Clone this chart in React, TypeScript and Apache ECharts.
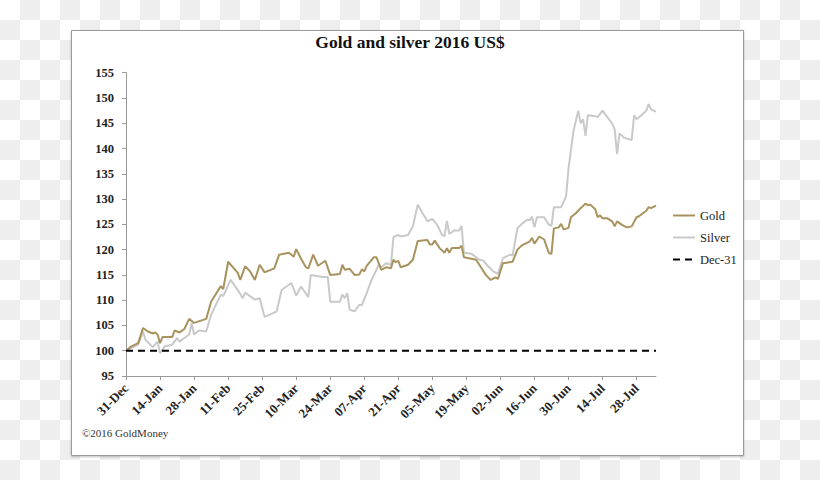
import React, { useEffect, useRef } from "react";
import * as echarts from "echarts";

// Day offsets counted from 31-Dec-2015
const goldDays = [0, 2, 5, 7, 9, 11, 12, 13, 14, 15, 19, 20, 22, 24, 26, 28, 33, 35, 39, 40, 42, 46, 47, 49, 51, 53, 55, 57, 61, 63, 67, 69, 70, 72, 74, 75, 77, 79, 82, 84, 88, 89, 90, 92, 94, 96, 97, 98, 99, 102, 103, 105, 107, 109, 110, 111, 112, 113, 116, 118, 120, 124, 125, 126, 127, 129, 131, 132, 133, 134, 137, 138, 139, 143, 144, 146, 148, 150, 152, 153, 155, 159, 161, 163, 166, 167, 168, 170, 172, 173, 174, 175, 176, 178, 179, 180, 182, 183, 185, 187, 189, 190, 191, 193, 194, 195, 196, 198, 200, 201, 202, 204, 206, 208, 210, 211, 214, 215, 216, 218];
const goldValues = [100, 100.8, 101.5, 104.5, 103.8, 103.4, 103.6, 103.2, 101.5, 102.7, 102.7, 104, 103.6, 104.3, 106.3, 105.5, 106.3, 109.7, 112.8, 112.2, 117.6, 115.4, 114, 116.7, 115.7, 114, 117, 115.5, 116.3, 119, 119.4, 118.6, 120.1, 118.2, 116.5, 116.3, 119, 116.8, 117.8, 115, 115.2, 117, 116, 116.2, 115, 115.1, 116.1, 115.7, 116.8, 118.5, 118.5, 116, 116.5, 116.3, 118, 117.5, 117.8, 116.5, 117, 118, 121.7, 121.9, 121, 121, 121.8, 120.3, 119.4, 120.3, 119.4, 120.3, 120.3, 120.8, 118.5, 118.1, 118, 116.5, 115, 114, 114.5, 114.2, 117.3, 117.6, 120, 120.9, 121.6, 122.3, 121.2, 122.6, 122, 120.6, 119.3, 119.2, 124.2, 124.4, 125.1, 124, 124.3, 126.4, 127.2, 128.2, 129.1, 128.8, 128.9, 128, 126.4, 126.8, 126.2, 126.2, 125.6, 124.6, 125.6, 124.9, 124.4, 124.6, 126.4, 126.6, 127.7, 128.4, 128.2, 128.7];

const silverDays = [0, 2, 5, 7, 8, 11, 13, 14, 16, 19, 21, 22, 26, 27, 28, 30, 33, 35, 39, 40, 43, 46, 48, 49, 53, 55, 57, 59, 62, 64, 68, 70, 72, 75, 76, 81, 83, 84, 88, 89, 90, 91, 92, 94, 96, 97, 99, 101, 104, 105, 107, 109, 110, 112, 113, 116, 118, 120, 122, 124, 126, 128, 130, 131, 132, 133, 135, 137, 138, 139, 142, 144, 145, 147, 149, 151, 153, 155, 158, 159, 161, 163, 165, 166, 167, 168, 169, 172, 174, 175, 176, 179, 181, 182, 184, 186, 187, 188, 189, 190, 193, 194, 196, 198, 200, 201, 202, 203, 205, 208, 209, 210, 212, 214, 215, 216, 218];
const silverValues = [100, 100.5, 101.2, 103.8, 102.2, 100.7, 101.8, 99.5, 100.9, 101.2, 102.5, 101.8, 103.2, 105.5, 103.2, 104, 103.8, 107.1, 111.1, 110.8, 114, 112, 110.4, 111.5, 110.1, 110.4, 106.7, 107.1, 107.8, 112, 113.4, 110.9, 112.7, 110.6, 115, 114.6, 114.6, 109.7, 109.7, 111.1, 110.4, 111.4, 108.1, 107.8, 109.1, 109, 111.4, 114, 117, 116.5, 117.3, 117, 122.5, 122.9, 122.6, 122.9, 124.6, 128.9, 127.2, 125.6, 126.1, 124.9, 122.9, 122.7, 125.7, 123.1, 123.8, 123.8, 124.7, 119.4, 119.2, 118.5, 118.1, 117.8, 116.7, 115.7, 115.2, 118.3, 119, 118.8, 124.2, 125.2, 125.9, 125.8, 126.5, 124.4, 126.4, 126.4, 124.9, 124.7, 128.4, 128.4, 130.5, 136, 143.3, 147.5, 145, 145.8, 142.5, 146.6, 146.4, 146.2, 147.5, 146.2, 144.9, 143.8, 138.9, 143, 142.1, 141.7, 146.6, 145.8, 146.6, 147.5, 148.8, 147.7, 147.3];

const baseDays = [0, 218];
const baseValues = [100, 100];

const tickLabels = ["31-Dec", "14-Jan", "28-Jan", "11-Feb", "25-Feb", "10-Mar", "24-Mar", "07-Apr", "21-Apr", "05-May", "19-May", "02-Jun", "16-Jun", "30-Jun", "14-Jul", "28-Jul"];
const tickStep = 14;
const yTicks = [95, 155, 5];

const SERIF = "'Liberation Serif', 'DejaVu Serif', serif";

export default function App() {
  const ref = useRef<HTMLDivElement>(null);
  useEffect(() => {
    if (!ref.current) return;
    const chart = echarts.init(ref.current, null, { renderer: "svg" });
    const tickValues = tickLabels.map((_, i) => i * tickStep);
    const pair = (d: number[], v: number[]) => d.map((x, i) => [x, v[i]]);
    chart.setOption({
      animation: false,
      backgroundColor: "transparent",
      graphic: [
        {
          type: "rect",
          shape: { x: 71.5, y: 30.5, width: 672, height: 425 },
          style: { fill: "#ffffff", stroke: "#9a9a9a", lineWidth: 1, shadowBlur: 2, shadowOffsetY: 1, shadowColor: "rgba(0,0,0,0.25)" },
          z: -10,
        },
        {
          type: "text",
          left: 82,
          top: 427,
          style: { text: "©2016 GoldMoney", font: `11px ${SERIF}`, fill: "#333" },
        },
      ],
      title: {
        text: "Gold and silver 2016 US$",
        left: "center",
        top: 28,
        textStyle: { fontFamily: SERIF, fontSize: 17.5, fontWeight: "bold", color: "#111" },
      },
      legend: {
        orient: "vertical",
        left: 667,
        top: 204,
        itemWidth: 22,
        itemHeight: 14,
        itemGap: 9,
        itemStyle: { opacity: 0 },
        textStyle: { fontFamily: SERIF, fontSize: 12.5, color: "#222" },
        data: ["Gold", "Silver", "Dec-31"],
      },
      grid: { left: 126, right: 164, top: 72.7, bottom: 104, containLabel: false },
      xAxis: {
        type: "value",
        min: 0,
        max: 218,
        splitLine: { show: false },
        axisLine: { lineStyle: { color: "#9a9a9a", width: 1 } },
        axisTick: { show: true, length: 4, customValues: tickValues, lineStyle: { color: "#9a9a9a" } },
        axisLabel: {
          customValues: tickValues,
          rotate: 45,
          margin: 10,
          fontFamily: SERIF,
          fontSize: 13,
          fontWeight: "bold",
          color: "#222",
          formatter: (v: number) => tickLabels[Math.round(v / tickStep)] ?? "",
        },
      },
      yAxis: {
        type: "value",
        min: yTicks[0],
        max: yTicks[1],
        interval: yTicks[2],
        splitLine: { show: false },
        axisLine: { show: true, lineStyle: { color: "#9a9a9a", width: 1 } },
        axisTick: { show: true, length: 4, lineStyle: { color: "#9a9a9a" } },
        axisLabel: { margin: 12, fontFamily: SERIF, fontSize: 12.5, fontWeight: "bold", color: "#222" },
      },
      series: [
        {
          name: "Gold",
          type: "line",
          data: pair(goldDays, goldValues),
          symbol: "none",
          z: 3,
          lineStyle: { color: "#a8935f", width: 2 },
          itemStyle: { color: "#a8935f" },
        },
        {
          name: "Silver",
          type: "line",
          data: pair(silverDays, silverValues),
          symbol: "none",
          z: 2,
          lineStyle: { color: "#c9c9c9", width: 2 },
          itemStyle: { color: "#c9c9c9" },
        },
        {
          name: "Dec-31",
          type: "line",
          data: pair(baseDays, baseValues),
          symbol: "none",
          z: 4,
          lineStyle: { color: "#000", width: 2, type: [7, 5] },
          itemStyle: { color: "#000" },
        },
      ],
    });
    return () => chart.dispose();
  }, []);
  return (
    <div
      style={{
        position: "absolute",
        left: 0,
        top: 0,
        width: 820,
        height: 480,
        backgroundColor: "#ffffff",
        backgroundImage: "repeating-conic-gradient(#eeeeee 0 25%, #ffffff 0 50%)",
        backgroundSize: "40px 40px",
      }}
    >
      <div ref={ref} style={{ width: 820, height: 480 }} />
    </div>
  );
}
